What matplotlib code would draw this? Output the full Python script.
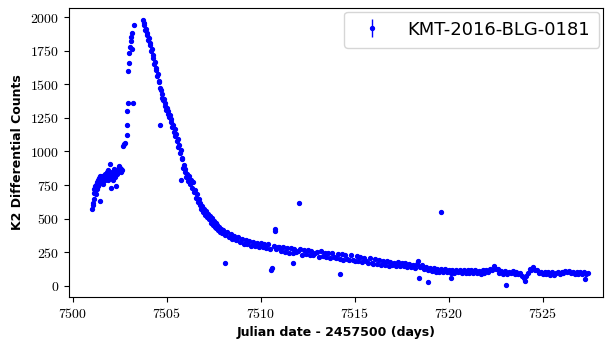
import matplotlib
matplotlib.use('Agg')
import matplotlib.pyplot as plt
from matplotlib.ticker import FuncFormatter

# Light curve values
# rising part
t_rise = [7501.05, 7501.08, 7501.10, 7501.12, 7501.14, 7501.16, 7501.18, 7501.20, 7501.22, 7501.24,
          7501.26, 7501.28, 7501.30, 7501.32, 7501.34, 7501.36, 7501.38, 7501.40, 7501.42, 7501.44,
          7501.46, 7501.48, 7501.50, 7501.52, 7501.55, 7501.58, 7501.61, 7501.64, 7501.67, 7501.70,
          7501.73, 7501.76, 7501.79, 7501.82, 7501.85, 7501.88, 7501.91, 7501.94, 7501.97, 7502.00,
          7502.03, 7502.06, 7502.09, 7502.12, 7502.15, 7502.18, 7502.21, 7502.24, 7502.27, 7502.30,
          7502.33, 7502.36, 7502.40, 7502.44, 7502.48, 7502.52, 7502.56, 7502.60, 7502.64]
f_rise = [570, 600, 615, 650, 690, 720, 700, 740, 680, 750,
          730, 770, 720, 760, 790, 745, 780, 800, 760, 630,
          790, 815, 770, 800, 780, 820, 790, 760, 810, 830,
          790, 820, 800, 845, 810, 860, 790, 830, 910, 800,
          840, 730, 810, 850, 790, 830, 870, 840, 810, 860,
          740, 830, 870, 850, 890, 880, 850, 870, 860]

# steep rise to the peak
t_peak = [7502.70, 7502.74, 7502.77, 7502.88, 7502.90, 7502.92, 7502.94, 7502.97, 7502.99, 7503.02,
          7503.05, 7503.08, 7503.12, 7503.15, 7503.18, 7503.21, 7503.24]
f_peak = [1040, 1055, 1060, 1120, 1200, 1300, 1360, 1600, 1660, 1730,
          1775, 1820, 1855, 1760, 1885, 1360, 1940]

# decline after the peak
t_fall = [7503.74, 7503.78, 7503.82, 7503.86, 7503.90, 7503.94, 7503.98, 7504.02, 7504.06, 7504.10,
          7504.14, 7504.18, 7504.22, 7504.26, 7504.30, 7504.34, 7504.38, 7504.42, 7504.46, 7504.50,
          7504.54, 7504.58, 7504.62, 7504.63, 7504.66, 7504.70, 7504.74, 7504.78, 7504.82, 7504.86,
          7504.90, 7504.94, 7504.98, 7505.02, 7505.06, 7505.10, 7505.14, 7505.18, 7505.22, 7505.26,
          7505.30, 7505.34, 7505.38, 7505.42, 7505.46, 7505.50, 7505.54, 7505.58, 7505.62, 7505.66,
          7505.70, 7505.74, 7505.78, 7505.80, 7505.84, 7505.88, 7505.92, 7505.96, 7506.00, 7506.05,
          7506.10, 7506.15, 7506.20, 7506.25, 7506.30, 7506.35, 7506.40, 7506.45, 7506.50, 7506.55,
          7506.60, 7506.65, 7506.70, 7506.75, 7506.80, 7506.85, 7506.90, 7506.95, 7507.00, 7507.05,
          7507.10, 7507.15, 7507.20, 7507.25, 7507.30, 7507.35, 7507.40, 7507.45, 7507.50, 7507.55,
          7507.60, 7507.65, 7507.70, 7507.75, 7507.80, 7507.85, 7507.90, 7507.95, 7508.00, 7508.09,
          7508.10, 7508.20, 7508.30, 7508.40, 7508.50, 7508.60, 7508.70, 7508.80, 7508.90, 7509.00,
          7509.10, 7509.20, 7509.30, 7509.40, 7509.50, 7509.60, 7509.70, 7509.80, 7509.90, 7510.00,
          7510.10, 7510.20, 7510.30, 7510.40, 7510.50, 7510.57, 7510.60, 7510.70, 7510.74, 7510.76,
          7510.80, 7510.90]
f_fall = [1978, 1945, 1955, 1905, 1915, 1870, 1880, 1830, 1845, 1790,
          1805, 1745, 1760, 1695, 1715, 1650, 1665, 1605, 1625, 1565,
          1575, 1515, 1525, 1200, 1470, 1455, 1400, 1425, 1380, 1390,
          1340, 1360, 1310, 1325, 1280, 1300, 1255, 1275, 1220, 1245,
          1180, 1200, 1145, 1170, 1115, 1130, 1075, 1095, 1030, 1050,
          990, 1010, 785, 945, 950, 880, 900, 850, 870, 810,
          835, 780, 815, 760, 790, 730, 770, 700, 715, 655,
          680, 625, 645, 600, 615, 570, 595, 550, 575, 530,
          555, 510, 535, 495, 520, 470, 502, 450, 480, 440,
          465, 428, 452, 415, 440, 402, 425, 392, 412, 170,
          380, 398, 362, 385, 352, 372, 338, 360, 328, 348,
          315, 340, 308, 332, 300, 330, 296, 322, 292, 318,
          288, 312, 282, 308, 278, 120, 135, 300, 405, 420,
          272, 292]

# long tail / baseline
t_base = [7511.0, 7511.1, 7511.2, 7511.3, 7511.4, 7511.5, 7511.6, 7511.7, 7511.74, 7511.8, 7511.9,
          7512.0, 7512.02, 7512.1, 7512.2, 7512.3, 7512.4, 7512.5, 7512.6, 7512.7, 7512.8, 7512.9,
          7513.0, 7513.1, 7513.2, 7513.3, 7513.4, 7513.5, 7513.6, 7513.7, 7513.8, 7513.9,
          7514.0, 7514.1, 7514.2, 7514.22, 7514.3, 7514.4, 7514.5, 7514.6, 7514.7, 7514.8, 7514.9,
          7515.0, 7515.1, 7515.2, 7515.3, 7515.4, 7515.5, 7515.6, 7515.7, 7515.8, 7515.9,
          7516.0, 7516.1, 7516.2, 7516.3, 7516.4, 7516.5, 7516.6, 7516.7, 7516.8, 7516.9,
          7517.0, 7517.1, 7517.2, 7517.3, 7517.4, 7517.5, 7517.6, 7517.7, 7517.8, 7517.9,
          7518.0, 7518.1, 7518.2, 7518.3, 7518.37, 7518.42, 7518.5, 7518.6, 7518.7, 7518.8, 7518.9, 7518.92,
          7519.0, 7519.1, 7519.2, 7519.3, 7519.4, 7519.5, 7519.6, 7519.61, 7519.7, 7519.8, 7519.9,
          7520.0, 7520.1, 7520.12, 7520.2, 7520.3, 7520.4, 7520.5, 7520.6, 7520.7, 7520.8, 7520.9,
          7521.0, 7521.1, 7521.2, 7521.3, 7521.4, 7521.5, 7521.6, 7521.7, 7521.8, 7521.9,
          7522.0, 7522.1, 7522.2, 7522.3, 7522.4, 7522.5, 7522.6, 7522.7, 7522.8, 7522.9,
          7523.0, 7523.07, 7523.1, 7523.2, 7523.3, 7523.4, 7523.5, 7523.6, 7523.7, 7523.8, 7523.9,
          7524.0, 7524.05, 7524.1, 7524.2, 7524.3, 7524.4, 7524.5, 7524.6, 7524.7, 7524.8, 7524.9,
          7525.0, 7525.1, 7525.2, 7525.3, 7525.4, 7525.5, 7525.6, 7525.7, 7525.8, 7525.9,
          7526.0, 7526.1, 7526.2, 7526.3, 7526.4, 7526.5, 7526.6, 7526.7, 7526.8, 7526.9,
          7527.0, 7527.1, 7527.2, 7527.23, 7527.3, 7527.4]
f_base = [290, 258, 292, 255, 282, 248, 280, 242, 170, 275, 250,
          262, 615, 272, 232, 266, 236, 270, 228, 258, 232, 248,
          250, 216, 256, 220, 248, 212, 246, 208, 242, 214,
          204, 240, 200, 85, 234, 196, 228, 202, 190, 226, 196,
          188, 222, 182, 214, 178, 210, 184, 172, 208, 170,
          166, 200, 160, 192, 156, 188, 158, 182, 150, 180,
          155, 170, 145, 178, 150, 168, 148, 172, 142, 162,
          140, 158, 132, 166, 182, 62, 138, 152, 126, 144, 118, 32,
          134, 110, 130, 104, 128, 106, 122, 548, 100, 124, 102,
          118, 96, 62, 120, 94, 118, 100, 116, 92, 118, 96,
          120, 94, 116, 92, 120, 98, 112, 90, 118, 94,
          116, 104, 128, 120, 146, 126, 128, 98, 110, 90,
          108, 8, 86, 106, 94, 108, 88, 104, 86, 96, 76,
          58, 35, 72, 98, 126, 118, 140, 116, 120, 96, 106,
          90, 104, 86, 100, 84, 106, 84, 96, 102, 86,
          104, 92, 112, 100, 110, 92, 104, 88, 100, 88,
          102, 86, 100, 50, 88, 96]

time = t_rise + t_peak + t_fall + t_base
flux = f_rise + f_peak + f_fall + f_base
flux_err = 12

plt.rcParams['mathtext.fontset'] = 'cm'

fig = plt.figure(figsize=(6.09, 3.53), dpi=100)
ax = fig.add_axes([0.113, 0.159, 0.877, 0.818])

ax.errorbar(time, flux, yerr=flux_err, fmt='o', color='blue', ms=2.8,
            elinewidth=1, capsize=0, label='KMT-2016-BLG-0181')

ax.set_xlim(7499.8, 7528.2)
ax.set_ylim(-82, 2067)
ax.set_xticks([7500, 7505, 7510, 7515, 7520, 7525])
ax.set_yticks([0, 250, 500, 750, 1000, 1250, 1500, 1750, 2000])
fmt = FuncFormatter(lambda v, p: r'$%d$' % v)
ax.xaxis.set_major_formatter(fmt)
ax.yaxis.set_major_formatter(fmt)
ax.tick_params(labelsize=10)

ax.set_xlabel('Julian date - 2457500 (days)', fontsize=9, fontweight='bold', labelpad=4)
ax.set_ylabel('K2 Differential Counts', fontsize=9, fontweight='bold', labelpad=4)

ax.legend(loc='upper right', fontsize=13, handletextpad=1.0, borderpad=0.5,
          borderaxespad=0.2)

fig.savefig('out.png', dpi=100)
